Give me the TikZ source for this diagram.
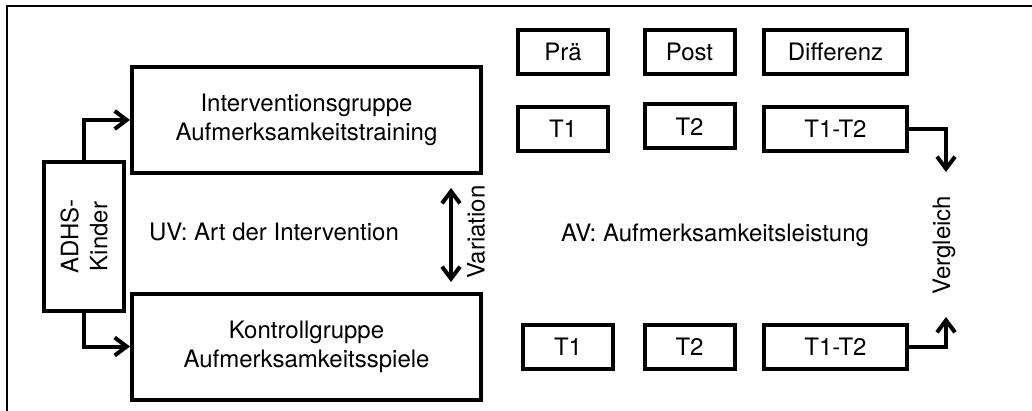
\documentclass[tikz,border=0pt]{standalone}
\usepackage{fontspec}
\setmainfont{TeX Gyre Heros}
\usepackage{tikz}
\usetikzlibrary{arrows.meta,positioning}

\begin{document}
\begin{tikzpicture}[
    x=0.5pt, y=-0.5pt,
    every node/.append style={font=\fontsize{12}{14.5}\selectfont},
    grp/.style={rectangle, draw, line width=2pt, align=center, minimum width=174.5pt, minimum height=53pt},
    tbox/.style={rectangle, draw, line width=2pt, align=center, minimum width=45pt, minimum height=22pt, inner sep=0pt},
    dbox/.style={tbox, minimum width=71.5pt},
    pfeil/.style={line width=2pt, -{Straight Barb[length=6pt,width=9pt]}},
    dpfeil/.style={line width=2pt, {Straight Barb[length=6pt,width=9pt]}-{Straight Barb[length=6pt,width=9pt]}}
]
    \useasboundingbox (0,0) rectangle (1032,411);
    % Rahmen
    \draw[line width=1pt] (1032,6.5) -| (7,411);

    % Gruppen
    \node[rectangle, draw, line width=2pt, minimum width=40pt, minimum height=74.5pt] (adhs) at (84,236.5) {};
    \node[rotate=90, align=center] (adhstxt) at (adhs.center) {ADHS-\\Kinder};
    \node[grp] (ig) at (306.5,120) {Interventionsgruppe\\Aufmerksamkeitstraining};
    \node[grp] (kg) at (306.5,346.5) {Kontrollgruppe\\Aufmerksamkeitsspiele};

    % UV
    \node (uv) at (274,232) {UV: Art der Intervention};
    \coordinate (varA) at (451,188);
    \coordinate (varB) at (451,282);
    \node[rotate=90] (vartxt) at (476,232) {Variation};

    % Messzeitpunkte
    \node[tbox] (pre) at (563,52) {Prä};
    \node[tbox] (post) at (689.5,52) {Post};
    \node[dbox] (diff) at (835.5,52) {Differenz};

    \node[tbox] (t1a) at (563,129) {T1};
    \node[tbox] (t2a) at (689.5,126.5) {T2};
    \node[dbox] (d1a) at (835.5,129) {T1-T2};

    \node[tbox] (t1b) at (568,347) {T1};
    \node[tbox] (t2b) at (689.5,347) {T2};
    \node[dbox] (d1b) at (835.5,347) {T1-T2};

    % AV
    \node (av) at (715,235) {AV: Aufmerksamkeitsleistung};
    \coordinate (cmpA) at (946,172);
    \coordinate (cmpB) at (946,317);
    \node[rotate=90] (vgl) at (944,245) {Vergleich};

    % Verbindungen
    \draw[pfeil] (adhs.north) |- (ig.west);
    \draw[pfeil] (adhs.south) |- (kg.west);
    \draw[dpfeil] (varA) -- (varB);
    \draw[pfeil] (d1a.east) -| (cmpA);
    \draw[pfeil] (d1b.east) -| (cmpB);
\end{tikzpicture}
\end{document}
